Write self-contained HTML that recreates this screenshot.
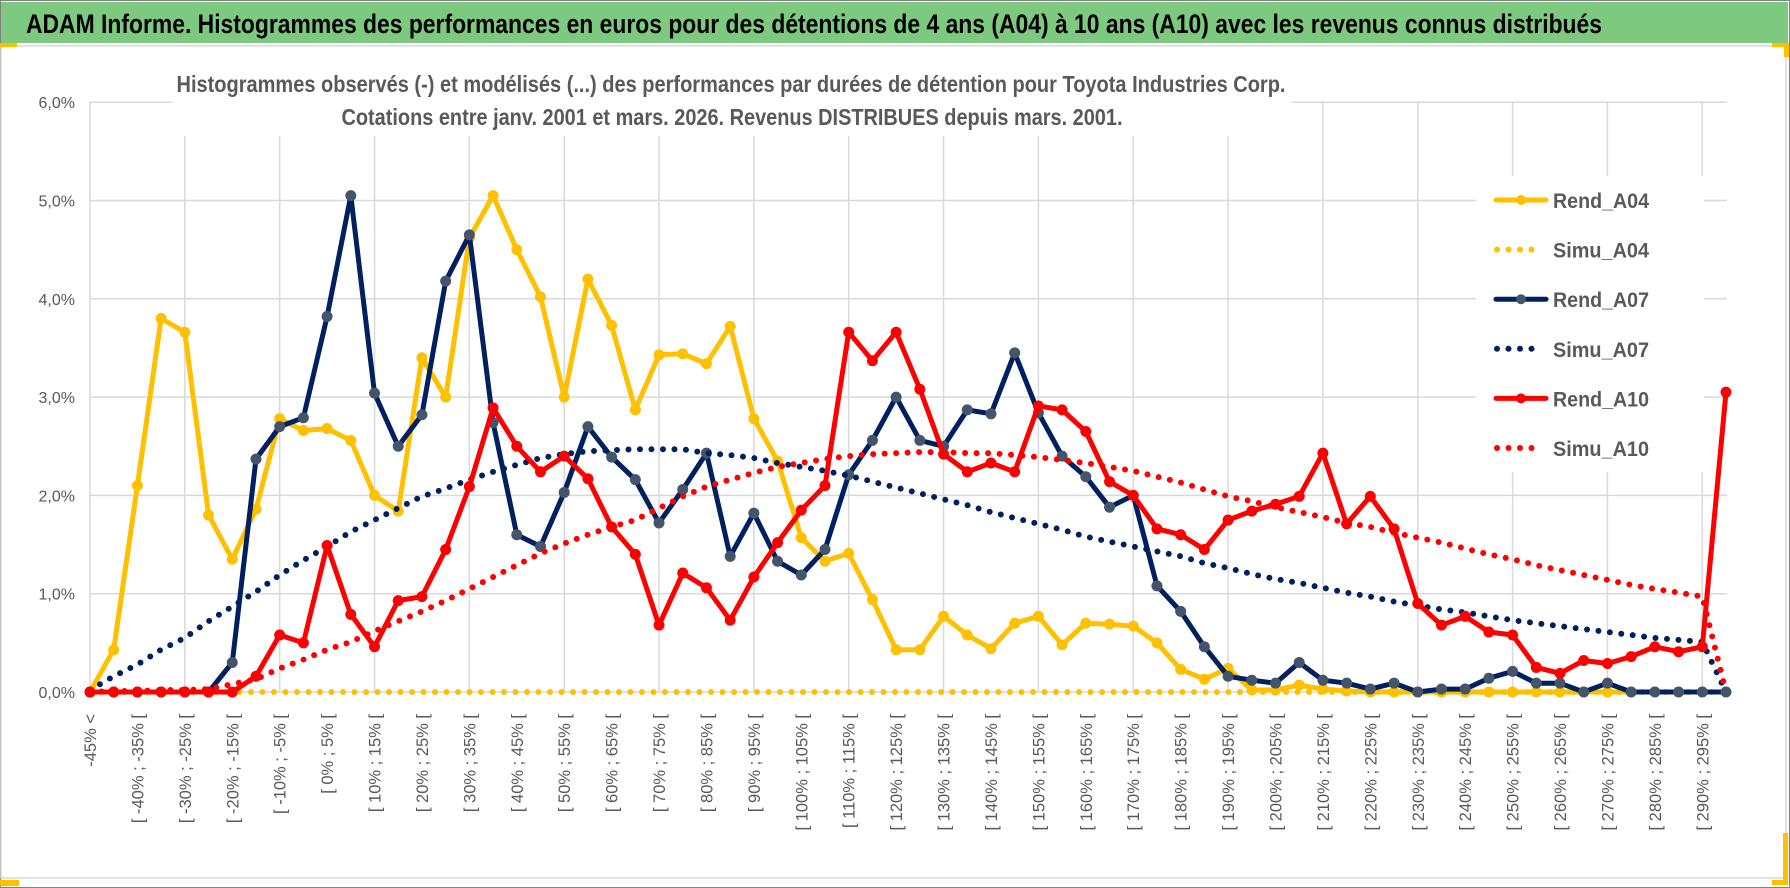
<!DOCTYPE html>
<html><head><meta charset="utf-8"><style>
html,body{margin:0;padding:0;background:#fff}
svg{display:block}
text{font-family:"Liberation Sans",sans-serif}
</style></head><body>
<svg id="chart" width="1790" height="888" viewBox="0 0 1790 888" xmlns="http://www.w3.org/2000/svg">
<rect x="0" y="0" width="1790" height="888" fill="#fff" stroke="#808080" stroke-width="2"/>
<rect x="1" y="2" width="1787" height="41" fill="#7dc97f"/>
<text x="26" y="33" font-size="27" font-weight="bold" fill="#000" textLength="1576" lengthAdjust="spacingAndGlyphs">ADAM Informe. Histogrammes des performances en euros pour des détentions de 4 ans (A04) à 10 ans (A10) avec les revenus connus distribués</text>
<rect x="1" y="46" width="1785" height="832" fill="none" stroke="#d9d9d9" stroke-width="1.5"/>
<rect x="0" y="43" width="17" height="4" fill="#ffc000"/>
<rect x="0" y="880" width="19" height="6" fill="#ffc000"/>
<rect x="1772" y="43" width="17" height="4" fill="#ffc000"/>
<rect x="1784" y="43" width="5" height="14" fill="#ffc000"/>
<rect x="1783" y="833" width="5" height="52" fill="#ffc000"/>
<rect x="1772" y="880" width="16" height="5" fill="#ffc000"/>
<g id="grid"></g>
<g id="series"></g>
<rect x="172" y="60" width="1120" height="76" fill="#fff"/>
<text x="731" y="92" font-size="23" font-weight="bold" fill="#595959" text-anchor="middle" textLength="1109" lengthAdjust="spacingAndGlyphs">Histogrammes observés (-) et modélisés (...) des performances par durées de détention pour Toyota Industries Corp.</text>
<text x="732" y="125" font-size="23" font-weight="bold" fill="#595959" text-anchor="middle" textLength="781" lengthAdjust="spacingAndGlyphs">Cotations entre janv. 2001 et mars. 2026. Revenus DISTRIBUES depuis mars. 2001.</text>
<g id="yaxis"></g>
<g id="xaxis"></g>
<rect x="1476" y="176" width="228" height="296" fill="#fff"/>
<g id="legend"></g>
</svg>
<script>
const NS="http://www.w3.org/2000/svg";
const rendA04=[0,0.43,2.1,3.8,3.66,1.8,1.35,1.86,2.78,2.66,2.68,2.56,2.0,1.84,3.4,3.0,4.62,5.05,4.5,4.02,3.0,4.2,3.73,2.87,3.43,3.44,3.34,3.72,2.78,2.35,1.57,1.33,1.41,0.94,0.43,0.43,0.77,0.58,0.44,0.70,0.77,0.48,0.70,0.69,0.67,0.50,0.23,0.13,0.24,0.02,0.02,0.07,0.03,0.01,0,0,0,0,0,0,0,0,0,0,0,0,0,0,0,0];
const simuA04=[0,0,0,0,0,0,0,0,0,0,0,0,0,0,0,0,0,0,0,0,0,0,0,0,0,0,0,0,0,0,0,0,0,0,0,0,0,0,0,0,0,0,0,0,0,0,0,0,0,0,0,0,0,0,0,0,0,0,0,0,0,0,0,0,0,0,0,0,0,0];
const rendA07=[0,0,0,0,0,0,0.30,2.37,2.70,2.79,3.82,5.05,3.04,2.50,2.82,4.18,4.65,2.74,1.60,1.48,2.03,2.70,2.39,2.16,1.72,2.06,2.43,1.38,1.82,1.33,1.19,1.45,2.21,2.56,3.00,2.56,2.50,2.87,2.83,3.45,2.84,2.40,2.19,1.88,2.00,1.08,0.82,0.46,0.16,0.12,0.09,0.30,0.12,0.09,0.03,0.09,0,0.03,0.03,0.14,0.21,0.09,0.09,0,0.09,0,0,0,0,0];
const simuA07=[0.02,0.16,0.28,0.43,0.55,0.72,0.87,1.02,1.19,1.34,1.48,1.63,1.75,1.87,1.99,2.07,2.16,2.24,2.31,2.38,2.42,2.45,2.46,2.47,2.47,2.47,2.43,2.41,2.38,2.33,2.29,2.25,2.20,2.14,2.08,2.02,1.96,1.90,1.83,1.77,1.71,1.65,1.58,1.53,1.48,1.43,1.38,1.31,1.26,1.20,1.15,1.11,1.06,1.01,0.97,0.92,0.88,0.84,0.81,0.77,0.73,0.70,0.67,0.64,0.61,0.58,0.55,0.53,0.51,0];
const rendA10=[0,0,0,0,0,0,0,0.16,0.58,0.50,1.49,0.79,0.46,0.93,0.97,1.45,2.09,2.89,2.50,2.24,2.40,2.17,1.68,1.40,0.68,1.21,1.06,0.73,1.17,1.52,1.85,2.10,3.66,3.37,3.66,3.08,2.42,2.24,2.33,2.24,2.91,2.87,2.65,2.14,2.00,1.66,1.60,1.45,1.75,1.84,1.91,1.99,2.43,1.71,1.99,1.66,0.90,0.68,0.77,0.61,0.58,0.25,0.19,0.32,0.29,0.36,0.46,0.41,0.46,3.05];
const simuA10=[0,0.01,0.01,0.02,0.02,0.03,0.08,0.13,0.24,0.33,0.43,0.51,0.62,0.72,0.82,0.93,1.05,1.17,1.29,1.41,1.51,1.60,1.68,1.75,1.87,1.99,2.09,2.16,2.23,2.29,2.33,2.37,2.40,2.42,2.43,2.44,2.44,2.43,2.43,2.41,2.39,2.36,2.33,2.29,2.25,2.19,2.13,2.06,1.99,1.94,1.88,1.83,1.78,1.72,1.68,1.62,1.57,1.52,1.46,1.40,1.35,1.29,1.24,1.19,1.14,1.09,1.05,1.01,0.97,0];
const yTicks=[0,1,2,3,4,5,6];
const yTickLabels=["0,0%","1,0%","2,0%","3,0%","4,0%","5,0%","6,0%"];
const categories=[];
categories.push("-45% <");
for(let k=1;k<70;k++){categories.push("[ "+(-50+5*k)+"% ; "+(-45+5*k)+"% [");}

const X0=90, DX=23.71, Y0=692, DY=98.3;
function xs(i){return X0+i*DX;}
function ys(v){return Y0-v*DY;}
function mk(tag,attrs,parent){const e=document.createElementNS(NS,tag);for(const k in attrs)e.setAttribute(k,attrs[k]);parent.appendChild(e);return e;}

const grid=document.getElementById('grid');
const xEnd=xs(categories.length-1);
yTicks.forEach((t,j)=>{
  const l=mk('line',{x1:X0,x2:xEnd+1,y1:ys(t),y2:ys(t),stroke:'#d9d9d9','stroke-width':1.5},grid);
  
  
});
for(let i=0;i<categories.length;i+=4){
  const l=mk('line',{x1:xs(i),x2:xs(i),y1:ys(6),y2:ys(0),stroke:'#d9d9d9','stroke-width':1.5},grid);
  
  
}
const yaxis=document.getElementById('yaxis');
yTicks.forEach((t,j)=>{
  const tx=mk('text',{x:75,y:ys(t)+6,'font-size':16,fill:'#595959','text-anchor':'end'},yaxis);
  tx.textContent=yTickLabels[j];
  
  
});
const xaxis=document.getElementById('xaxis');
for(let i=0;i<categories.length;i+=2){
  const x=xs(i)+6, y=714;
  const tx=mk('text',{x:x,y:y,'font-size':16.5,fill:'#595959','text-anchor':'end',transform:'rotate(-90 '+x+' '+y+')'},xaxis);
  tx.textContent=categories[i];
  
  
}
const series=document.getElementById('series');
function pts(arr){return arr.map((v,i)=>xs(i).toFixed(1)+','+ys(v).toFixed(1)).join(' ');}
function solid(arr,color,mfill,name){
  const g=mk('g',{},series);
  
  
  const p=mk('polyline',{points:pts(arr),fill:'none',stroke:color,'stroke-width':5,'stroke-linejoin':'round'},g);
  
  
  arr.forEach((v,i)=>{
    const c=mk('circle',{cx:xs(i),cy:ys(v),r:5,fill:mfill,stroke:mfill,'stroke-width':1},g);
    
    
  });
}
function dotted(arr,color,name){
  const p=mk('polyline',{points:pts(arr),fill:'none',stroke:color,'stroke-width':6,'stroke-linecap':'round','stroke-dasharray':'0 11.5'},series);
  
  
}
solid(rendA04,'#ffc000','#ffc000','rend-a04');
dotted(simuA04,'#ffc000','simu-a04');
solid(rendA07,'#002060','#44546a','rend-a07');
dotted(simuA07,'#002060','simu-a07');
solid(rendA10,'#ff0000','#ff0000','rend-a10');
dotted(simuA10,'#ff0000','simu-a10');

const legendNames=["Rend_A04","Simu_A04","Rend_A07","Simu_A07","Rend_A10","Simu_A10"];
const legendColors=["#ffc000","#ffc000","#002060","#002060","#ff0000","#ff0000"];
const legendMarker=["#ffc000",null,"#44546a",null,"#ff0000",null];
const legend=document.getElementById('legend');
legendNames.forEach((n,j)=>{
  const y=200+j*49.6;
  const g=mk('g',{},legend);
  
  
  if(legendMarker[j]){
    mk('line',{x1:1496,x2:1546,y1:y,y2:y,stroke:legendColors[j],'stroke-width':5,'stroke-linecap':'round'},g);
    mk('circle',{cx:1521,cy:y,r:5,fill:legendMarker[j]},g);
  } else {
    mk('line',{x1:1497,x2:1538,y1:y,y2:y,stroke:legendColors[j],'stroke-width':6,'stroke-linecap':'round','stroke-dasharray':'0 11.5'},g);
  }
  const t=mk('text',{x:1553,y:y+8,'font-size':21,'font-weight':'bold',fill:'#595959',textLength:96,lengthAdjust:'spacingAndGlyphs'},g);
  t.textContent=n;
});
</script>
</body></html>
